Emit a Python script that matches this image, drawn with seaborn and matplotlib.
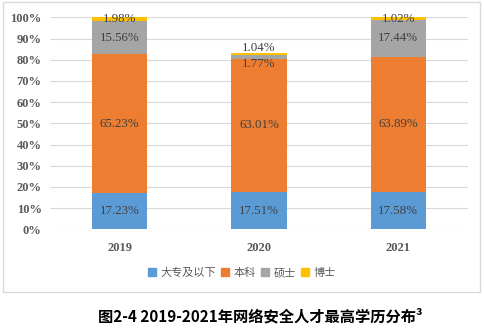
import matplotlib
matplotlib.use("Agg")
import matplotlib.pyplot as plt
import matplotlib.patches as mpatches
from matplotlib.ticker import FuncFormatter
import seaborn as sns
import numpy as np

years = ["2019", "2020", "2021"]
series_names = ["大专及以下", "本科", "硕士", "博士"]
junior_college = [17.23, 17.51, 17.58]
bachelor = [65.23, 63.01, 63.89]
master = [15.56, 1.77, 17.44]
doctor = [1.98, 1.04, 1.02]
colors = ["#5B9BD5", "#ED7D31", "#A5A5A5", "#FFC000"]

sns.set_theme(style="white")
plt.rcParams["font.family"] = ["Noto Sans CJK SC", "DejaVu Sans"]

fig = plt.figure(figsize=(4.84, 3.29), dpi=100)
ax = fig.add_axes([50 / 484, 1 - 229.3 / 329, 418 / 484, 212 / 329])

serif = "Liberation Serif"
all_series = [junior_college, bachelor, master, doctor]
bottom = np.zeros(len(years))
for idx, (name, vals, col) in enumerate(zip(series_names, all_series, colors)):
    sns.barplot(x=years, y=vals, bottom=bottom, color=col, width=0.395,
                ax=ax, label=name, saturation=1, linewidth=0)
    cont = ax.containers[-1]
    anns = ax.bar_label(cont, labels=[f"{v:.2f}%" for v in vals], label_type="center",
                        fontsize=9.3, color="#404040", family=serif)
    # thin neighbouring segments: nudge the two labels apart
    for j, ann in enumerate(anns):
        if idx == 2 and vals[j] < 5:
            ann.xyann = (0, -5)
        if idx == 3 and all_series[2][j] < 5:
            ann.xyann = (0, 4)
    bottom = bottom + np.array(vals)

ax.set_ylim(0, 100)
ax.set_xlim(-0.5, 2.5)
ax.set_yticks(np.arange(0, 101, 10))
ax.yaxis.set_major_formatter(FuncFormatter(lambda v, p: f"{v:.0f}%"))
ax.grid(axis="y", color="#D9D9D9", linewidth=0.8)
ax.set_axisbelow(True)
for s in ax.spines.values():
    s.set_visible(False)
ax.tick_params(axis="both", length=0, pad=6)
for lab in ax.get_yticklabels() + ax.get_xticklabels():
    lab.set_family(serif)
    lab.set_fontweight("bold")
    lab.set_color("#595959")
    lab.set_fontsize(9)
ax.tick_params(axis="x", pad=9)
ax.set_xlabel("")
ax.set_ylabel("")
if ax.get_legend():
    ax.get_legend().remove()

handles = [mpatches.Patch(color=c, label=n) for n, c in zip(series_names, colors)]
fig.legend(handles=handles, loc="center", bbox_to_anchor=(0.5, 1 - 273 / 329),
           ncol=4, frameon=False, fontsize=8, handlelength=0.7, handleheight=0.7,
           handletextpad=0.4, columnspacing=0.5, labelcolor="#595959")

border = mpatches.Rectangle((3 / 484, 1 - 292 / 329), 477 / 484, 290 / 329,
                            transform=fig.transFigure, fill=False,
                            edgecolor="#D9D9D9", linewidth=1)
fig.patches.append(border)

fig.text(260 / 484, 1 - 316 / 329, "图2-4 2019-2021年网络安全人才最高学历分布³",
         ha="center", va="center", fontsize=11, fontweight="bold", color="#000000")

fig.savefig("out.png", dpi=100, facecolor="white")
